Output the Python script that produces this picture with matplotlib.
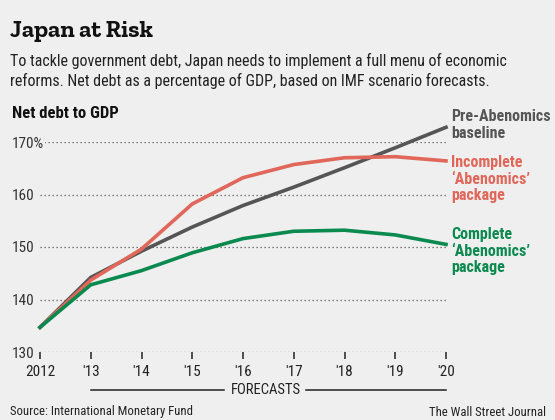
import matplotlib
matplotlib.use('Agg')
import matplotlib.pyplot as plt
from matplotlib import font_manager
from matplotlib.transforms import blended_transform_factory

years = [2012, 2013, 2014, 2015, 2016, 2017, 2018, 2019, 2020]
xlabels = ['2012', "'13", "'14", "'15", "'16", "'17", "'18", "'19", "'20"]
baseline = [134.7, 144.2, 149.2, 153.8, 157.9, 161.4, 165.1, 168.9, 172.8]
incomplete = [134.7, 143.7, 149.6, 158.2, 163.2, 165.7, 167.0, 167.2, 166.4]
complete = [134.7, 142.8, 145.5, 148.9, 151.6, 153.0, 153.2, 152.3, 150.5]
yticks = [130, 140, 150, 160, 170]
ylabels = ['130', '140', '150', '160', '170%']


def pick(cands):
    have = {f.name for f in font_manager.fontManager.ttflist}
    for c in cands:
        if c in have:
            return c
    return 'DejaVu Sans'


narrow = pick(['Roboto Condensed', 'Archivo Narrow', 'PT Sans Narrow',
               'Liberation Sans Narrow', 'Open Sans Condensed'])
slab = pick(['Roboto Slab', 'Zilla Slab', 'Bitter', 'Arvo', 'DejaVu Serif'])

bg = '#efefef'
c_gray = '#555555'
c_red = '#e0675a'
c_green = '#0b8a4f'

W, H = 555, 420
fig = plt.figure(figsize=(W / 100, H / 100), dpi=100, facecolor=bg)
ax = fig.add_axes([40 / W, (H - 352) / H, (446 - 40) / W, (352 - 142) / H])
ax.set_facecolor(bg)

ax.plot(years, baseline, color=c_gray, lw=2.6, clip_on=False, zorder=3)
ax.plot(years, incomplete, color=c_red, lw=2.6, clip_on=False, zorder=3)
ax.plot(years, complete, color=c_green, lw=2.6, clip_on=False, zorder=3)

ax.set_xlim(2012, 2020)
ax.set_ylim(130, 170)
for s in ax.spines.values():
    s.set_visible(False)

ax.set_yticks(yticks, ylabels)
ax.tick_params(axis='y', length=0, pad=20.5, labelsize=11, labelcolor='#333333')
for lbl in ax.get_yticklabels():
    lbl.set_ha('left')
    lbl.set_family(narrow)
    lbl.set_bbox(dict(facecolor=bg, edgecolor='none', pad=1.0))
ax.grid(axis='y', color='#555555', ls=(0, (1, 2.2)), lw=0.9)

ax.set_xticks(years, xlabels)
ax.tick_params(axis='x', length=5, width=1.2, color='#333333', pad=4,
               labelsize=11, labelcolor='#222222')
for lbl in ax.get_xticklabels():
    lbl.set_family(narrow)

# forecasts bracket
tr = blended_transform_factory(ax.transData, fig.transFigure)
yf = (H - 390) / H
ax.plot([2013, 2015.62], [yf, yf], color='#222222', lw=1.1, transform=tr, clip_on=False)
ax.plot([2017.25, 2020], [yf, yf], color='#222222', lw=1.1, transform=tr, clip_on=False)
ax.text(2016.45, yf, 'FORECASTS', transform=tr, ha='center', va='center',
        fontsize=10.5, color='#222222', family=narrow)

# right-side labels
lx = 451 / W
lab_kw = dict(ha='left', va='center', fontsize=11.5,
              fontweight='bold', family=narrow, linespacing=1.1)
fig.text(lx, (H - 125) / H, 'Pre-Abenomics\nbaseline', color=c_gray, **lab_kw)
fig.text(lx, (H - 179) / H, 'Incomplete\n\u2018Abenomics\u2019\npackage', color=c_red, **lab_kw)
fig.text(lx, (H - 251) / H, 'Complete\n\u2018Abenomics\u2019\npackage', color=c_green, **lab_kw)

# titles
fig.text(10 / W, (H - 32) / H, 'Japan at Risk', fontsize=17.5, fontweight='bold',
         family=slab, va='center', ha='left', color='#111111')
fig.text(10 / W, (H - 71) / H,
         'To tackle government debt, Japan needs to implement a full menu of economic\n'
         'reforms. Net debt as a percentage of GDP, based on IMF scenario forecasts.',
         fontsize=11.5, family=narrow, va='center', ha='left', color='#222222',
         linespacing=1.25)
fig.text(12 / W, (H - 113) / H, 'Net debt to GDP', fontsize=12, fontweight='bold',
         family=narrow, va='center', ha='left', color='#111111')

fig.text(10 / W, (H - 412) / H, 'Source: International Monetary Fund', fontsize=9.2,
         family=narrow, va='center', ha='left', color='#222222')
fig.text(546 / W, (H - 412) / H, 'The Wall Street Journal', fontsize=9.2,
         family=narrow, va='center', ha='right', color='#222222')

fig.savefig('out.png', dpi=100, facecolor=bg)
